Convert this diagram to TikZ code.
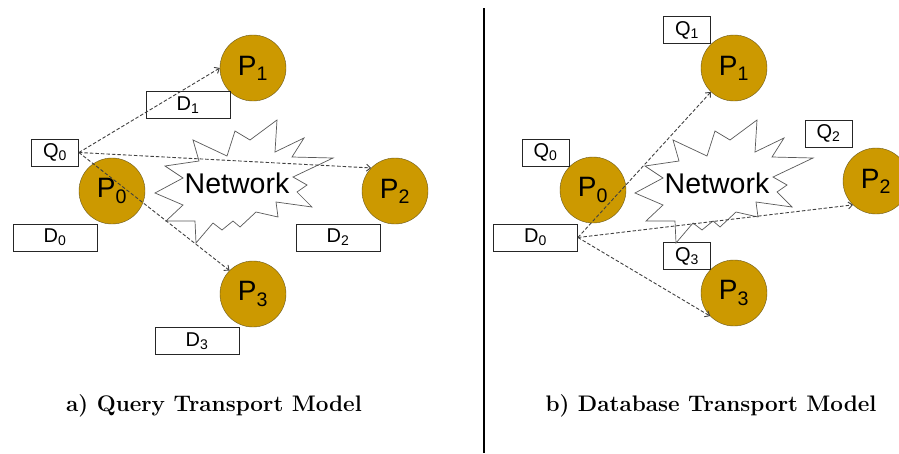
\documentclass[tikz,border=0pt]{standalone}
\usepackage{fontspec}
\newfontfamily\arialfont{Liberation Sans}
\usetikzlibrary{arrows.meta}
\definecolor{procgold}{RGB}{204,153,0}
\definecolor{procline}{RGB}{105,88,30}
\tikzset{
  proc/.style={circle,draw=procline,fill=procgold,minimum size=66pt,inner sep=0pt,
    font=\arialfont\fontsize{28}{28}\selectfont},
  qbox/.style={rectangle,draw=black!85,fill=white,minimum width=47pt,minimum height=27pt,
    inner sep=0pt,line width=0.8pt,font=\arialfont\fontsize{20}{20}\selectfont},
  dbox/.style={qbox,minimum width=84pt},
  burst/.style={draw=black!65,fill=white,line width=0.7pt,line join=miter},
  nettext/.style={font=\arialfont\fontsize{28.5}{28.5}\selectfont},
  link/.style={draw=black!75,dash pattern=on 3.5pt off 2pt,line width=0.9pt,
    -{Straight Barb[length=4pt,width=7pt]}},
  capt/.style={font=\bfseries\fontsize{22.5}{26}\selectfont,anchor=base}
}
\begin{document}
\begin{tikzpicture}[x=1pt,y=-1pt]
\clip (0,0) rectangle (899,453);
% a) query transport model
\node[proc] (aP1) at (253,68) {P\textsubscript{1}};
\node[proc] (aP0) at (112,191) {P\textsubscript{0}};
\node[proc] (aP2) at (395,191) {P\textsubscript{2}};
\node[proc] (aP3) at (253,294) {P\textsubscript{3}};
\node[qbox] (aQ0) at (55,152.5) {Q\textsubscript{0}};
\node[dbox] (aD1) at (188,105) {D\textsubscript{1}};
\node[dbox] (aD0) at (55,237.5) {D\textsubscript{0}};
\node[dbox] (aD2) at (338,237.5) {D\textsubscript{2}};
\node[dbox] (aD3) at (197,341) {D\textsubscript{3}};
% b) database transport model
\node[proc] (bP1) at (734,68) {P\textsubscript{1}};
\node[proc] (bP0) at (593,190) {P\textsubscript{0}};
\node[proc] (bP2) at (876,181) {P\textsubscript{2}};
\node[proc] (bP3) at (734,293) {P\textsubscript{3}};
\node[qbox] (bQ1) at (687,30) {Q\textsubscript{1}};
\node[qbox] (bQ0) at (545.5,152.5) {Q\textsubscript{0}};
\node[qbox] (bQ2) at (828.5,133.5) {Q\textsubscript{2}};
\node[qbox] (bQ3) at (687,256) {Q\textsubscript{3}};
\node[dbox] (bD0) at (535.5,237.5) {D\textsubscript{0}};
% the two network bursts
\foreach \dx/\side in {0/a,480/b}{
  \begin{scope}[xshift=\dx pt]
  \draw[burst] (165,166) -- (199,161) -- (193,140) -- (227,156) -- (235,131)
    -- (250,140) -- (277,120) -- (275,152) -- (304,138) -- (292,157)
    -- (333,158) -- (293,177) -- (307,185) -- (297,192) -- (312,207)
    -- (276,202) -- (278,217) -- (256,212) -- (240,227) -- (233,221)
    -- (222,230) -- (213,223) -- (196,243) -- (195,221) -- (166,221)
    -- (183,205) -- (155,193) -- (183,178) -- cycle;
  \node[nettext] (\side net) at (237,183) {Network};
  \end{scope}
}
% transports
\draw[link] (aQ0.east) -- (aP1.180);
\draw[link] (aQ0.east) -- (aP2.136);
\draw[link] (aQ0.east) -- (aP3.135);
\draw[link] (bD0.east) -- (bP1.226);
\draw[link] (bD0.east) -- (bP2.226);
\draw[link] (bD0.east) -- (bP3.224);
% divider and captions
\draw[line width=1.2pt] (484,8) -- (484,453);
\node[capt] (capa) at (214,411) {a) Query Transport Model};
\node[capt] (capb) at (711,411) {b) Database Transport Model};
\end{tikzpicture}
\end{document}
